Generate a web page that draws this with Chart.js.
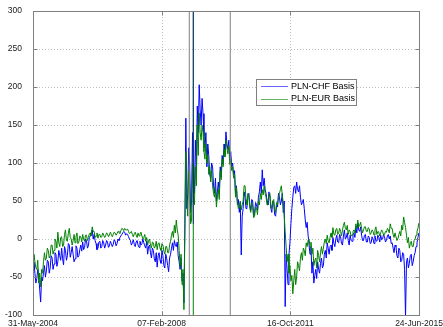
<!DOCTYPE html>
<html><head><meta charset="utf-8">
<script src="https://cdn.jsdelivr.net/npm/chart.js@4.4.1/dist/chart.umd.min.js"></script>
<style>html,body{margin:0;padding:0;background:#fff}#wrap{width:443px;height:327px;position:relative}</style>
</head><body><div id="wrap"><canvas id="c" width="443" height="327"></canvas></div>
<script>
const tickLabels = ['31-May-2004', '07-Feb-2008', '16-Oct-2011', '24-Jun-2015'];
const yTicks = [-100, -50, 0, 50, 100, 150, 200, 250, 300];
const seriesNames = ['PLN-CHF Basis', 'PLN-EUR Basis'];
const sampleStepDays = 10;
const chfBasis = [
  -38,-30, -45,-58, -52,-40, -48,-66, -83,-50, -55,-44, -35,-50, -42,-28, -30,-45, -38,-22,
  -25,-40, -33,-18, -20,-36, -30,-15, -22,-28, -12,-26, -34,-10, -15,-28, -22,-6, -8,-24,
  -18,-10, -20,-30, -26,-9, -12,-24, -22,-14, -8,-16, -4,-14, -11,0, -2,-12, -9,2,
  4,8, 12,0, 6,-2, -6,-14, -12,-4, -3,-12, -10,-2, -5,-12, -8,-2, -4,-11,
  -9,-3, -6,-10, -7,-1, -3,-9, -6,0, -2,2, 4,6, 8,10, 9,5, 7,6,
  3,0, -2,-8, -5,-1, -7,-10, -4,-2, -8,-11, -3,-8, -6,0, -5,-9, -12,-3,
  -20,-10, -8,-18, -25,-12, -15,-26, -30,-18, -37,-22, -18,-28, -32,-15, -22,-35, -38,-20,
  -26,-35, -43,-25, -20,-12, -5,-15, -2,-8, -10,-4, -22,-30, -40,-25, -55,-45, -84,20,
  159,40, 60,120, 100,35, 50,140, 80,60, 130,90, 175,140, 203,170, 150,185, 165,135,
  120,140, 95,125, 110,85, 80,100, 95,70, 60,80, 50,62, 75,60, 95,82, 110,98,
  125,112, 141,125, 118,130, 105,115, 95,100, 85,90, 60,70, 45,52, 35,48, -21,30,
  40,62, 55,40, 42,58, 60,45, 38,52, 50,30, 35,48, 45,38, 55,62, 75,60,
  91,70, 80,65, 60,50, 45,62, 55,40, 35,50, 48,32, 30,45, 42,60, 55,45,
  50,60, 35,50, -89,-20, -40,-60, -20,-5, 20,40, 55,68, 70,60, 75,65, 62,70,
  55,45, 48,52, 40,25, 15,22, 5,-8, -20,-10, -45,-30, -58,-48, -40,-52, -30,-40,
  -45,-32, -25,-38, -35,-20, -15,-25, -5,-12, -20,-10, -8,-15, 2,-6, -10,0, 5,-4,
  -5,6, 3,-6, -8,4, 12,0, 2,8, -2,-8, 5,-2, -3,6, 8,2, 16,8,
  21,12, 10,16, 5,-2, -2,5, 6,-4, -4,4, 2,-6, -5,3, 0,-6, 4,-2,
  -3,5, 2,-4, 5,-1, 0,6, 3,-4, -2,4, 6,0, 4,-6, -5,-12, -18,-8,
  -10,-22, -25,-12, -15,-30, -28,-18, -20,-40, -103,-30, -25,-38, -32,-22, -20,-35, -30,-22,
  -18,-10, -5,2, 8
];
const eurBasis = [
  -27,-20, -30,-38, -40,-28, -58,-45, -63,-40, -45,-30, -18,-28, -25,-12, -15,-25, -22,-8,
  -8,-20, -15,0, -3,-12, 9,-5, -10,2, 3,-10, -8,6, 12,-2, -3,8, 14,2,
  0,-8, -2,6, -5,3, 8,-6, -4,4, 3,-4, 6,0, -3,5, 5,-2, 2,7,
  8,4, 16,10, 10,2, 4,8, 1,6, 6,2, 3,8, 5,2, 4,8, 7,3,
  5,9, 6,3, 6,9, 8,5, 7,10, 9,7, 11,14, 13,11, 14,12, 12,13,
  10,7, 8,10, 6,3, 7,9, 5,2, 8,4, 6,9, 4,0, 2,6, -3,2,
  -8,-2, 0,-8, -12,-4, -5,-12, -10,-3, -14,-6, -5,-12, -15,-6, -8,-16, -20,-10,
  -10,-18, -18,-8, -3,5, 10,2, 18,8, 25,12, 5,-15, -35,-20, -60,-40, -93,10,
  115,50, 30,90, 70,20, 25,100, 60,45, 95,70, 150,110, 166,140, 130,150, 140,115,
  105,125, 100,110, 85,95, 75,90, 70,60, 55,68, 42,55, 65,52, 90,78, 105,95,
  118,108, 130,120, 112,122, 98,106, 90,95, 80,85, 55,68, 48,40, 42,50, 38,45,
  50,70, 70,52, 45,60, 55,40, 35,48, 42,28, 30,42, 40,32, 50,45, 60,52,
  65,58, 70,60, 55,45, 50,58, 60,45, 40,50, 52,38, 35,48, 45,55, 60,65,
  70,58, 45,30, 10,-10, -30,-20, -45,-35, -55,-48, -72,-55, -40,-60, -50,-30, -35,-42,
  -25,-18, -28,-12, -15,-22, -5,-10, -2,0, -10,-4, -20,-12, -35,-28, -25,-38, -15,-22,
  -30,-18, -10,-20, -12,-4, 0,-6, 5,-2, -5,2, 8,2, 15,6, 5,12, 14,6,
  8,14, 10,4, 12,18, 22,14, 12,18, 6,12, 10,4, 5,10, 12,8, 20,14,
  25,16, 18,22, 14,8, 12,16, 16,10, 10,15, 13,6, 8,12, 10,5, 12,16,
  6,10, 9,4, 8,12, 10,5, 6,10, 9,14, 12,8, 20,14, 14,6, 2,8,
  8,-2, 0,6, 10,4, 18,12, 29,22, 15,5, -5,2, -12,-6, -3,-10, -10,-2,
  0,5, 10,14, 21
];
const eventDays = [1636, 2065];
const spikeDay = 1678;

const MONTHS = {Jan:0,Feb:1,Mar:2,Apr:3,May:4,Jun:5,Jul:6,Aug:7,Sep:8,Oct:9,Nov:10,Dec:11};
function dayNum(s){ const p = s.split('-'); return Date.UTC(+p[2], MONTHS[p[1]], +p[0]) / 86400000; }
const day0 = dayNum(tickLabels[0]);
const tickDays = tickLabels.map(s => dayNum(s) - day0);

const toPts = arr => arr.map((v, i) => ({x: i * sampleStepDays, y: v}));
const vline = (d, lo, hi) => [{x: d, y: lo}, {x: d, y: hi}];

const FONT = "'Liberation Sans', Arial, Helvetica, sans-serif";
const FRAME = '#808080';
const COLORS = ['#0000ff', '#008000'];

const framePlugin = {
  id: 'frame',
  beforeDatasetsDraw(chart) {
    const {ctx, chartArea: a, scales: {x, y}} = chart;
    ctx.save();
    ctx.strokeStyle = '#c0c0c0'; ctx.lineWidth = 1; ctx.setLineDash([1, 2]);
    yTicks.slice(1, -1).forEach(v => {
      const py = Math.round(y.getPixelForValue(v)) + 0.5;
      ctx.beginPath(); ctx.moveTo(a.left, py); ctx.lineTo(a.right, py); ctx.stroke();
    });
    tickDays.slice(1, -1).forEach(d => {
      const px = Math.round(x.getPixelForValue(d)) + 0.5;
      ctx.beginPath(); ctx.moveTo(px, a.top); ctx.lineTo(px, a.bottom); ctx.stroke();
    });
    ctx.restore();
  },
  afterDraw(chart) {
    const {ctx, chartArea: a, scales: {x, y}} = chart;
    const L = Math.round(a.left) + 0.5, R = Math.round(a.right) + 0.5;
    const T = Math.round(a.top) + 0.5, B = Math.round(a.bottom) + 0.5;
    ctx.save();
    ctx.setLineDash([]);
    ctx.strokeStyle = FRAME; ctx.lineWidth = 1;
    ctx.strokeRect(L, T, R - L, B - T);
    const tl = 4;
    ctx.beginPath();
    yTicks.forEach(v => {
      const py = Math.round(y.getPixelForValue(v)) + 0.5;
      ctx.moveTo(L, py); ctx.lineTo(L + tl, py);
      ctx.moveTo(R, py); ctx.lineTo(R - tl, py);
    });
    tickDays.forEach(d => {
      const px = Math.round(x.getPixelForValue(d)) + 0.5;
      ctx.moveTo(px, B); ctx.lineTo(px, B - tl);
      ctx.moveTo(px, T); ctx.lineTo(px, T + tl);
    });
    ctx.stroke();
    // x tick labels
    ctx.fillStyle = '#1a1a1a'; ctx.font = '8.5px ' + FONT;
    ctx.textAlign = 'center'; ctx.textBaseline = 'alphabetic';
    tickDays.forEach((d, i) => ctx.fillText(tickLabels[i], x.getPixelForValue(d), 326));
    // legend
    const bx = 256.5, by = 79.5, bw = 100, bh = 26;
    ctx.fillStyle = '#ffffff'; ctx.fillRect(bx, by, bw, bh);
    ctx.strokeStyle = FRAME; ctx.strokeRect(bx, by, bw, bh);
    ctx.font = '9px ' + FONT; ctx.textBaseline = 'middle'; ctx.textAlign = 'left';
    seriesNames.forEach((n, i) => {
      const ly = 86 + i * 12.5;
      ctx.globalAlpha = 0.6;
      ctx.strokeStyle = COLORS[i]; ctx.lineWidth = 1;
      ctx.beginPath(); ctx.moveTo(261, Math.round(ly) + 0.5); ctx.lineTo(288, Math.round(ly) + 0.5); ctx.stroke();
      ctx.globalAlpha = 1;
      ctx.fillStyle = '#000'; ctx.fillText(n, 291, ly + 0.5);
    });
    ctx.restore();
  }
};

new Chart(document.getElementById('c'), {
  type: 'line',
  data: {
    datasets: [
      {label: seriesNames[0], data: toPts(chfBasis), borderColor: COLORS[0], borderWidth: 1, pointRadius: 0, order: 2},
      {label: seriesNames[1], data: toPts(eurBasis), borderColor: COLORS[1], borderWidth: 1, pointRadius: 0, order: 1},
      {label: 'spikeG', data: vline(spikeDay, -200, 500), borderColor: COLORS[1], borderWidth: 1, pointRadius: 0, order: 0},
      {label: 'spikeB', data: vline(spikeDay, 20, 500), borderColor: 'rgba(0,0,170,0.7)', borderWidth: 1, pointRadius: 0, order: -1},
      {label: 'ev1', data: vline(eventDays[0], -200, 500), borderColor: '#808080', borderWidth: 1, pointRadius: 0, order: -2},
      {label: 'ev2', data: vline(eventDays[1], -200, 500), borderColor: '#808080', borderWidth: 1, pointRadius: 0, order: -2}
    ]
  },
  options: {
    responsive: false, animation: false, devicePixelRatio: 1,
    layout: {padding: {top: 11, right: 24, left: 0, bottom: 0}},
    elements: {line: {tension: 0}},
    plugins: {legend: {display: false}, tooltip: {enabled: false}},
    scales: {
      x: {
        type: 'linear', min: tickDays[0], max: tickDays[tickDays.length - 1],
        afterBuildTicks: s => { s.ticks = tickDays.map(v => ({value: v})); },
        ticks: {display: false},
        grid: {display: false}, border: {display: false},
        afterFit: s => { s.height = 12; s.paddingLeft = 0; s.paddingRight = 0; }
      },
      y: {
        type: 'linear', min: yTicks[0], max: yTicks[yTicks.length - 1],
        afterBuildTicks: s => { s.ticks = yTicks.map(v => ({value: v})); },
        ticks: {callback: v => String(v), padding: 3, color: '#1a1a1a', font: {family: FONT, size: 8.5}},
        grid: {display: false}, border: {display: false},
        afterFit: s => { s.width = 33; s.paddingTop = 0; s.paddingBottom = 0; }
      }
    }
  },
  plugins: [framePlugin]
});
</script>
</body></html>
